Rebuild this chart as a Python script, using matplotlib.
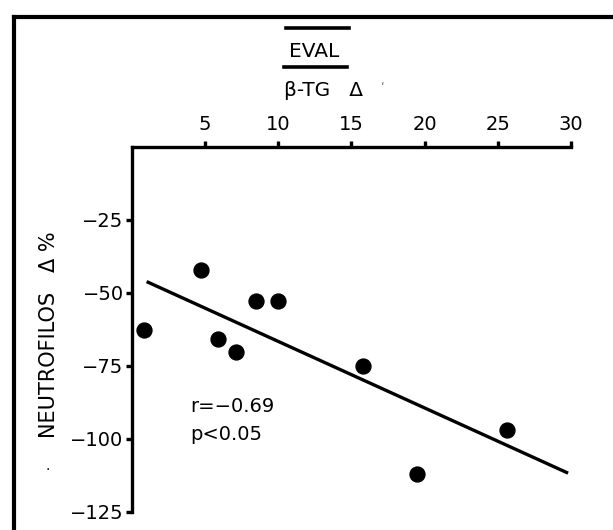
import numpy as np
import matplotlib
matplotlib.use("Agg")
import matplotlib.pyplot as plt
from matplotlib.lines import Line2D

# values
beta_tg = [0.8, 4.7, 5.9, 7.1, 8.5, 10.0, 15.8, 19.5, 25.6]
neutro = [-62.8, -42.3, -65.8, -70.2, -52.9, -52.9, -75.0, -112.1, -96.8]
fit_x = [1.0, 29.8]
fit_y = [-46.1, -111.7]
xticks = [5, 10, 15, 20, 25, 30]
yticks = [-25, -50, -75, -100, -125]

plt.rcParams['font.family'] = ['DejaVu Sans']

fig = plt.figure(figsize=(6.13, 5.30), dpi=100)
ax = fig.add_axes([0.2153, 0.034, 0.7162, 0.6887])

ax.scatter(beta_tg, neutro, s=115, color='black', zorder=3, clip_on=False)
ax.plot(fit_x, fit_y, color='black', lw=2.4, solid_capstyle='butt')

ax.set_xlim(0, 30)
ax.set_ylim(-125, 0)
ax.spines['right'].set_visible(False)
ax.spines['bottom'].set_visible(False)
ax.spines['top'].set_linewidth(2.4)
ax.spines['left'].set_linewidth(2.4)
ax.xaxis.tick_top()
ax.set_xticks(xticks)
ax.set_yticks(yticks)
ax.tick_params(axis='both', direction='out', length=4, width=2.4, labelsize=14, pad=2)
ax.tick_params(axis='x', pad=5)

ax.text(4.0, -89, 'r=\u22120.69', fontsize=14, va='center', ha='left')
ax.text(4.0, -98.5, 'p<0.05', fontsize=14, va='center', ha='left')

fig.text(0.080, 0.368, 'NEUTROFILOS   \u0394 %', rotation=90, fontsize=15,
         ha='center', va='center')
fig.text(0.078, 0.113, '\u00b7', fontsize=10, ha='center', va='center')

# title block above the axes
fig.text(0.512, 0.902, 'EVAL', fontsize=14.5, ha='center', va='center')
fig.add_artist(Line2D([0.467, 0.569], [0.947, 0.947], color='black', lw=2.6))
fig.add_artist(Line2D([0.463, 0.566], [0.873, 0.873], color='black', lw=2.6))
fig.text(0.463, 0.830, '\u03b2-TG   \u0394', fontsize=14.5, ha='left', va='center')
fig.text(0.624, 0.838, '\u2018', fontsize=8, color='0.4', ha='center', va='center')

# outer frame of the scanned page
fig.add_artist(Line2D([0.023, 1.0], [0.968, 0.968], color='black', lw=3))
fig.add_artist(Line2D([0.023, 0.023], [0.0, 0.968], color='black', lw=3))

fig.savefig('out.png', dpi=100)
